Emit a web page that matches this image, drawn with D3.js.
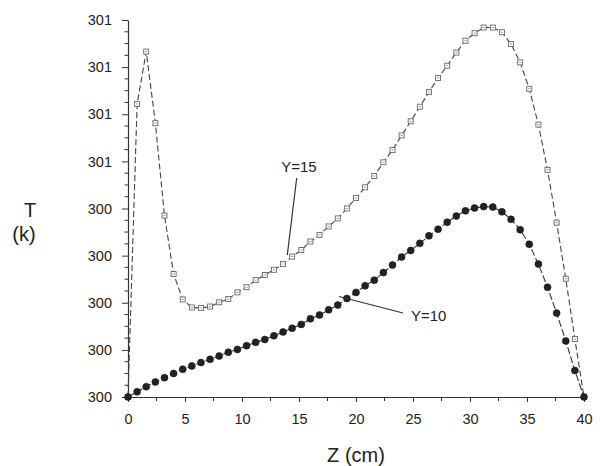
<!DOCTYPE html>
<html>
<head>
<meta charset="utf-8">
<script src="https://cdn.jsdelivr.net/npm/d3@7/dist/d3.min.js"></script>
<style>
  html, body { margin: 0; padding: 0; background: #fff; }
  svg { display: block; }
  text { font-family: "Liberation Sans", Arial, sans-serif; fill: #222; }
</style>
</head>
<body>
<svg id="chart" width="600" height="466"></svg>
<script>
// ---- data ----
const zValues = [0, 0.8, 1.6, 2.4, 3.2, 4.0, 4.8, 5.6, 6.4, 7.2, 8.0, 8.8, 9.6, 10.4, 11.2, 12.0,
  12.8, 13.6, 14.4, 15.2, 16.0, 16.8, 17.6, 18.4, 19.2, 20.0, 20.8, 21.6, 22.4, 23.2, 24.0,
  24.8, 25.6, 26.4, 27.2, 28.0, 28.8, 29.6, 30.4, 31.2, 32.0, 32.8, 33.6, 34.4, 35.2, 36.0,
  36.8, 37.6, 38.4, 39.2, 40.0];

const tempY10 = [300.000, 300.011, 300.022, 300.032, 300.041, 300.050, 300.059, 300.066, 300.073,
  300.080, 300.087, 300.095, 300.101, 300.109, 300.116, 300.122, 300.130, 300.138, 300.146,
  300.154, 300.166, 300.174, 300.185, 300.195, 300.209, 300.222, 300.236, 300.248, 300.264,
  300.280, 300.297, 300.311, 300.326, 300.342, 300.356, 300.371, 300.384, 300.395, 300.401,
  300.404, 300.403, 300.393, 300.377, 300.355, 300.324, 300.282, 300.233, 300.178, 300.119,
  300.056, 300.000];

const tempY15 = [300.000, 300.622, 300.733, 300.581, 300.385, 300.261, 300.207, 300.190, 300.189,
  300.192, 300.201, 300.208, 300.222, 300.233, 300.248, 300.259, 300.270, 300.282, 300.298,
  300.312, 300.330, 300.344, 300.362, 300.379, 300.400, 300.422, 300.445, 300.469, 300.498,
  300.524, 300.555, 300.585, 300.616, 300.647, 300.677, 300.703, 300.731, 300.756, 300.772,
  300.784, 300.784, 300.774, 300.749, 300.710, 300.654, 300.578, 300.482, 300.370, 300.251,
  300.123, 300.000];

const xTickValues = [0, 5, 10, 15, 20, 25, 30, 35, 40];
const xTickLabels = ["0", "5", "10", "15", "20", "25", "30", "35", "40"];
const xMinorTicks = [2.5, 7.5, 12.5, 17.5, 22.5, 27.5, 32.5, 37.5];
const yTickValues = [300.0, 300.1, 300.2, 300.3, 300.4, 300.5, 300.6, 300.7, 300.8];
const yTickLabels = ["300", "300", "300", "300", "300", "301", "301", "301", "301"];
const yMinorTicks = [300.025, 300.05, 300.075, 300.125, 300.15, 300.175, 300.225, 300.25, 300.275,
  300.325, 300.35, 300.375, 300.425, 300.45, 300.475, 300.525, 300.55, 300.575,
  300.625, 300.65, 300.675, 300.725, 300.75, 300.775];

const seriesNames = ["Y=10", "Y=15"];
const xTitle = "Z (cm)";
const yTitle1 = "T";
const yTitle2 = "(k)";

// ---- drawing ----
const svg = d3.select("#chart");
const x = d3.scaleLinear().domain([0, 40]).range([128, 584]);
const y = d3.scaleLinear().domain([300, 300.8]).range([397, 20]);

// x axis
const xAxis = d3.axisBottom(x).tickValues(xTickValues)
  .tickFormat((d, i) => xTickLabels[i]).tickSize(5).tickSizeOuter(0).tickPadding(12);
const gx = svg.append("g").attr("transform", `translate(0,${y(300)})`).call(xAxis);
gx.select(".domain").attr("stroke", "#333").attr("stroke-width", 1.2);
gx.selectAll(".tick line").attr("stroke", "#333");
gx.selectAll(".tick text").style("font-size", "14.5px").attr("fill", "#222");
gx.selectAll(".minor").data(xMinorTicks).enter().append("line")
  .attr("class", "minor").attr("x1", d => x(d)).attr("x2", d => x(d))
  .attr("y1", 0).attr("y2", 4).attr("stroke", "#333");

// y axis
const yAxis = d3.axisLeft(y).tickValues(yTickValues)
  .tickFormat((d, i) => yTickLabels[i]).tickSize(6).tickSizeOuter(0).tickPadding(10);
const gy = svg.append("g").attr("transform", `translate(${x(0)},0)`).call(yAxis);
gy.select(".domain").attr("stroke", "#333").attr("stroke-width", 1.2);
gy.selectAll(".tick line").attr("stroke", "#333");
gy.selectAll(".tick text").style("font-size", "14.5px").attr("fill", "#222");
gy.selectAll(".minor").data(yMinorTicks).enter().append("line")
  .attr("class", "minor").attr("y1", d => y(d)).attr("y2", d => y(d))
  .attr("x1", 0).attr("x2", -3.5).attr("stroke", "#333");

// axis titles
svg.append("text").attr("x", 356).attr("y", 462).attr("text-anchor", "middle")
  .style("font-size", "20px").text(xTitle);
svg.append("text").attr("x", 30).attr("y", 217).attr("text-anchor", "middle")
  .style("font-size", "20px").text(yTitle1);
svg.append("text").attr("x", 24).attr("y", 241).attr("text-anchor", "middle")
  .style("font-size", "20px").text(yTitle2);

// lines
const line = d3.line().x(d => x(d[0])).y(d => y(d[1]));
const d10 = zValues.map((z, i) => [z, tempY10[i]]);
const d15 = zValues.map((z, i) => [z, tempY15[i]]);

svg.append("path").datum(d15).attr("d", line)
  .attr("fill", "none").attr("stroke", "#444").attr("stroke-width", 1.1)
  .attr("stroke-dasharray", "6,3");
svg.append("path").datum(d10).attr("d", line)
  .attr("fill", "none").attr("stroke", "#333").attr("stroke-width", 1.1)
  .attr("stroke-dasharray", "7,2.5");

// markers Y=15: small open squares
const sq = svg.append("g").selectAll("g").data(d15).enter().append("g")
  .attr("transform", d => `translate(${x(d[0])},${y(d[1])})`);
sq.append("rect").attr("x", -2.5).attr("y", -2.5).attr("width", 5).attr("height", 5)
  .attr("fill", "#fff").attr("stroke", "#666").attr("stroke-width", 0.9);
sq.append("line").attr("x1", -1.2).attr("x2", 1.2).attr("y1", 0).attr("y2", 0)
  .attr("stroke", "#888").attr("stroke-width", 0.8);

// markers Y=10: filled circles
svg.append("g").selectAll("circle").data(d10).enter().append("circle")
  .attr("cx", d => x(d[0])).attr("cy", d => y(d[1])).attr("r", 3.5)
  .attr("fill", "#222").attr("stroke", "#111").attr("stroke-width", 0.5);

// annotations
svg.append("text").attr("x", 299).attr("y", 172).attr("text-anchor", "middle")
  .style("font-size", "15px").text(seriesNames[1]);
svg.append("line").attr("x1", 296.7).attr("y1", 178).attr("x2", 287.3).attr("y2", 255)
  .attr("stroke", "#333").attr("stroke-width", 1.2);

svg.append("text").attr("x", 411).attr("y", 321).attr("text-anchor", "start")
  .style("font-size", "15px").text(seriesNames[0]);
svg.append("line").attr("x1", 339).attr("y1", 296.5).attr("x2", 403).attr("y2", 313)
  .attr("stroke", "#333").attr("stroke-width", 1.2);
</script>
</body>
</html>
